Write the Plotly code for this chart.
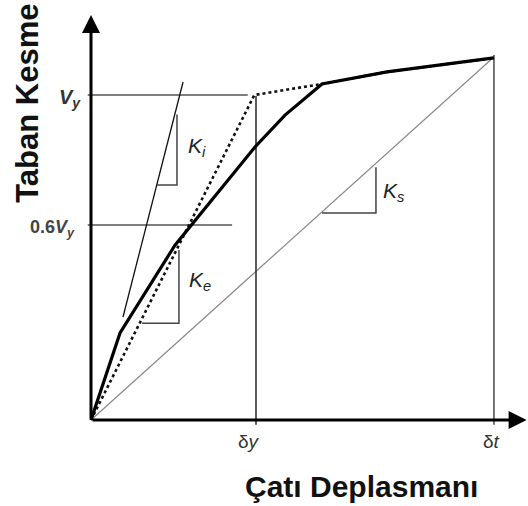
import plotly.graph_objects as go

# Data in normalized units: x in delta_y units, y in Vy units
cap_x = [0, 0.176, 0.509, 0.830, 0.994, 1.176, 1.400, 1.794, 2.442]
cap_y = [0, 0.268, 0.538, 0.738, 0.840, 0.938, 1.034, 1.071, 1.114]

bil_x = [0, 0.99, 1.40, 1.794, 2.442]
bil_y = [0, 1.0, 1.034, 1.071, 1.114]

ki_x = [0.194, 0.558]
ki_y = [0.317, 1.04]
ki_tri_x = [0.40, 0.521, 0.521]
ki_tri_y = [0.723, 0.723, 0.94]

ke_tri_x = [0.309, 0.533, 0.533]
ke_tri_y = [0.298, 0.298, 0.523]

ks_x = [0, 2.442]
ks_y = [0, 1.117]
ks_tri_x = [1.40, 1.727, 1.727]
ks_tri_y = [0.637, 0.637, 0.778]

vy_line_x = [-0.02, 0.95]
vy_line_y = [1.0, 1.0]
v06_line_x = [-0.02, 0.855]
v06_line_y = [0.6, 0.6]

dy_x = [1.0, 1.0]
dy_y = [-0.015, 0.997]
dt_x = [2.442, 2.442]
dt_y = [-0.015, 1.123]

FONT = "Liberation Sans, Arial, Helvetica, sans-serif"

fig = go.Figure()

def line(x, y, color, width, dash="solid"):
    fig.add_trace(go.Scatter(x=x, y=y, mode="lines",
                             line=dict(color=color, width=width, dash=dash),
                             hoverinfo="skip", showlegend=False))

line(ks_x, ks_y, "#8a8a8a", 1.2)
line(vy_line_x, vy_line_y, "#555555", 1.6)
line(v06_line_x, v06_line_y, "#555555", 1.6)
line(dy_x, dy_y, "#333333", 1.6)
line(dt_x, dt_y, "#666666", 1.8)
line(ki_x, ki_y, "#111111", 1.3)
line(ki_tri_x, ki_tri_y, "#444444", 1.5)
line(ke_tri_x, ke_tri_y, "#444444", 1.5)
line(ks_tri_x, ks_tri_y, "#444444", 1.5)
line(bil_x, bil_y, "#111111", 2.6, "dot")
line(cap_x, cap_y, "#000000", 3.2)

annotations = []
# axes with arrows
annotations.append(dict(x=0, y=1.246, ax=0, ay=0, axref="x", ayref="y",
                        xref="x", yref="y", text="", showarrow=True,
                        arrowhead=2, arrowsize=1.2, arrowwidth=3, arrowcolor="black"))
annotations.append(dict(x=2.64, y=0, ax=0, ay=0, axref="x", ayref="y",
                        xref="x", yref="y", text="", showarrow=True,
                        arrowhead=2, arrowsize=1.2, arrowwidth=3, arrowcolor="black"))

def txt(x, y, s, size, color="#222222", angle=0):
    annotations.append(dict(x=x, y=y, xref="x", yref="y", text=s, showarrow=False,
                            textangle=angle, font=dict(family=FONT, size=size, color=color)))

txt(-0.39, 0.975, "<b>Taban Kesme</b>", 31, "#111111", -90)
txt(1.642, -0.205, "<b>Çatı Deplasmanı</b>", 30, "#111111")
txt(-0.13, 0.99, "<b><i>V<sub>y</sub></i></b>", 20, "#333333")
txt(-0.235, 0.59, "<b>0.6<i>V<sub>y</sub></i></b>", 18, "#444444")
txt(0.96, -0.066, "δ<i>y</i>", 19, "#333333")
txt(2.43, -0.066, "δ<i>t</i>", 19, "#333333")
txt(0.642, 0.84, "<i>K<sub>i</sub></i>", 21, "#222222")
txt(0.661, 0.428, "<i>K<sub>e</sub></i>", 21, "#222222")
txt(1.836, 0.702, "<i>K<sub>s</sub></i>", 21, "#222222")

fig.update_layout(
    width=528, height=506,
    margin=dict(l=0, r=0, t=0, b=0),
    paper_bgcolor="white", plot_bgcolor="white",
    xaxis=dict(range=[-91/165, (528-91)/165], visible=False, fixedrange=True),
    yaxis=dict(range=[-86/325, 420/325], visible=False, fixedrange=True),
    annotations=annotations,
    showlegend=False,
)

fig.write_html("out.html")
